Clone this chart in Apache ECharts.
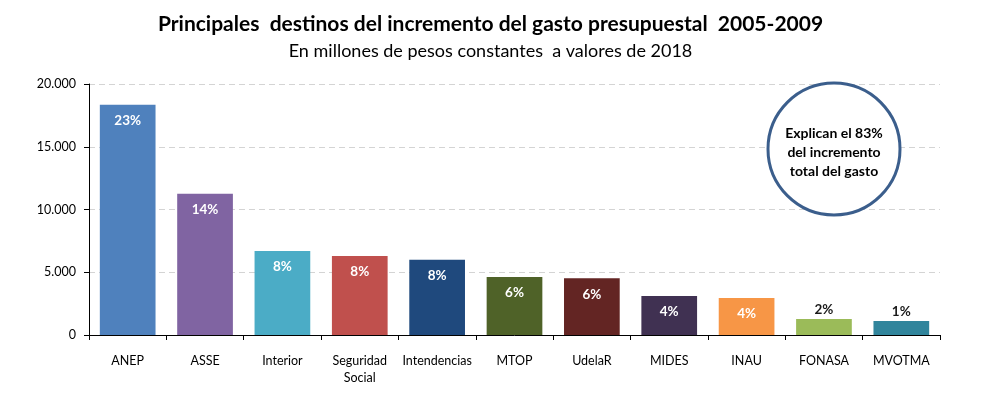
<!DOCTYPE html>
<html>
<head>
<meta charset="utf-8">
<script src="https://cdn.jsdelivr.net/npm/echarts@6/dist/echarts.min.js"></script>
<style>html,body{margin:0;padding:0;background:#fff}#c{width:981px;height:397px}</style>
</head>
<body>
<div id="c"></div>
<script>
var categories = ['ANEP','ASSE','Interior','Seguridad\nSocial','Intendencias','MTOP','UdelaR','MIDES','INAU','FONASA','MVOTMA'];
var values = [18350, 11250, 6700, 6300, 6000, 4630, 4520, 3110, 2950, 1280, 1120];
var shares = ['23%','14%','8%','8%','8%','6%','6%','4%','4%','2%','1%'];
var colors = ['#4F81BD','#8064A2','#4BACC6','#C0504D','#1F497D','#4F6228','#632523','#403152','#F79646','#9BBB59','#31859C'];
var yTicks = [0, 5000, 10000, 15000, 20000];
var FONT = 'Lato';

var chart = echarts.init(document.getElementById('c'));
var data = values.map(function(v, i){
  var outside = i >= 9;
  return {
    value: v,
    itemStyle: {color: colors[i]},
    label: outside ? {position: 'top', color: '#1a1a1a', distance: 2} : {position: 'insideTop', color: '#ffffff', distance: 9}
  };
});
chart.setOption({
  animation: false,
  title: [{
    text: 'Principales  destinos del incremento del gasto presupuestal  2005-2009',
    left: 'center', top: 9,
    textStyle: {fontFamily: FONT, fontSize: 21, fontWeight: 'bold', color: '#000'}
  },{
    text: 'En millones de pesos constantes  a valores de 2018',
    left: 'center', top: 37,
    textStyle: {fontFamily: FONT, fontSize: 18, fontWeight: 'normal', color: '#000'}
  }],
  grid: {left: 89, right: 41, top: 84, bottom: 62},
  xAxis: {
    type: 'category',
    data: categories,
    axisLine: {lineStyle: {color: '#000', width: 1}},
    axisTick: {show: true, length: 5, lineStyle: {color: '#000'}},
    axisLabel: {fontFamily: FONT, fontSize: 12.5, color: '#000', margin: 17, lineHeight: 17, interval: 0}
  },
  yAxis: {
    type: 'value',
    min: yTicks[0], max: yTicks[yTicks.length-1], interval: yTicks[1]-yTicks[0],
    axisLine: {show: true, lineStyle: {color: '#000', width: 1}},
    axisTick: {show: true, length: 5, lineStyle: {color: '#000'}},
    axisLabel: {fontFamily: FONT, fontSize: 12.5, color: '#000', margin: 13,
      formatter: function(v){ return v === 0 ? '0' : String(v).replace(/\B(?=(\d{3})+(?!\d))/g, '.'); }},
    splitLine: {show: true, lineStyle: {color: '#d4d4d4', type: [6,4], width: 1}}
  },
  series: [{
    type: 'bar',
    data: data,
    barCategoryGap: '28%',
    label: {
      show: true,
      fontFamily: FONT, fontSize: 13.5, fontWeight: 'bold',
      formatter: function(p){ return shares[p.dataIndex]; }
    }
  }],
  graphic: [{
    type: 'circle',
    shape: {cx: 834, cy: 149, r: 66},
    style: {fill: '#fff', stroke: '#3B5E8C', lineWidth: 3},
    z: 10
  },{
    type: 'text',
    x: 834, y: 152,
    style: {
      text: 'Explican el 83%\ndel incremento\ntotal del gasto',
      fontFamily: FONT, fontSize: 14, fontWeight: 'bold', fill: '#000',
      align: 'center', verticalAlign: 'middle', lineHeight: 19
    },
    z: 11
  }]
});
</script>
</body>
</html>
